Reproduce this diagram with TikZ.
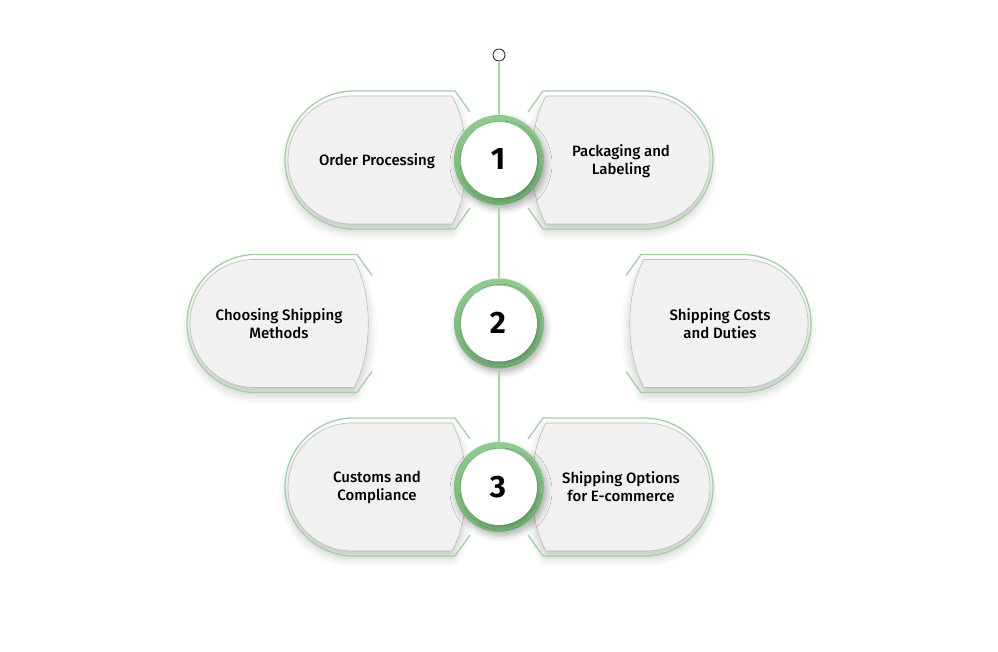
\documentclass[tikz,border=0pt]{standalone}
\usepackage{fontspec}
\setmainfont{Fira Sans}
\newfontfamily\medfont{Fira Sans Medium}
\usetikzlibrary{shadows.blur}
\definecolor{boxfill}{HTML}{F1F1F1}
\definecolor{boxedge}{HTML}{BDBDBD}
\definecolor{outgreen}{HTML}{9FD29F}
\definecolor{linegreen}{HTML}{A6D7A6}
\definecolor{ringgreen}{HTML}{90CB90}
\definecolor{ringdark}{HTML}{74B274}
\newcommand\boxpaths{%
    \fill[boxfill, draw=boxedge, line width=0.6pt,
      blur shadow={shadow xshift=0pt, shadow yshift=-7pt, shadow blur radius=9pt, shadow opacity=22}]
      (-147,64) -- (-47,64) .. controls (-28,30) and (-28,-30) .. (-47,-64)
      -- (-147,-64) arc[start angle=270, end angle=90, radius=64] -- cycle;
    \draw[outgreen, line width=1.3pt, line join=round]
      (-29,48) -- (-44,69) -- (-145,69) arc[start angle=90, end angle=270, radius=69]
      -- (-44,-69) -- (-29,-48);
}
\tikzset{
  label/.style={font=\medfont\fontsize{15}{18}\selectfont, align=center, text=black, inner sep=0pt},
  num/.style={font=\bfseries\fontsize{31}{31}\selectfont, text=black, inner sep=0pt},
  ring/.style={circle, minimum size=90pt, inner sep=0pt, top color=ringgreen, bottom color=ringdark,
    blur shadow={shadow xshift=2pt, shadow yshift=-4pt, shadow blur radius=6pt, shadow opacity=30}},
  face/.style={circle, minimum size=76pt, inner sep=0pt, fill=white,
    blur shadow={shadow xshift=2pt, shadow yshift=-2pt, shadow blur radius=3pt, shadow opacity=22}},
  link/.style={draw=linegreen, line width=1.8pt}
}
\begin{document}
\begin{tikzpicture}[x=1pt,y=1pt]
\useasboundingbox (0,0) rectangle (998,652);
% boxes
\begin{scope}[shift={(499,492)}] \boxpaths \end{scope}
\begin{scope}[shift={(499,492)}, xscale=-1] \boxpaths \end{scope}
\begin{scope}[shift={(401,328.5)}] \boxpaths \end{scope}
\begin{scope}[shift={(597,328.5)}, xscale=-1] \boxpaths \end{scope}
\begin{scope}[shift={(499,165)}] \boxpaths \end{scope}
\begin{scope}[shift={(499,165)}, xscale=-1] \boxpaths \end{scope}
% circles
\node[circle, minimum size=12pt, inner sep=0pt, draw=black!80, line width=0.9pt, fill=white] (top) at (499,597) {};
\node[ring] (c1) at (499,492) {};
\node[ring] (c2) at (499,328.5) {};
\node[ring] (c3) at (499,165) {};
\draw[link] (top) -- (c1);
\draw[link] (c1) -- (c2);
\draw[link] (c2) -- (c3);
\node[face] (f1) at (499,492) {};
\node[face] (f2) at (499,328.5) {};
\node[face] (f3) at (499,165) {};
\node[num] (n1) at (498,493) {1};
\node[num] (n2) at (498,329) {2};
\node[num] (n3) at (498,165) {3};
% labels
\node[label] (t1) at (377,491) {Order Processing};
\node[label] (t2) at (621,491) {Packaging and\\Labeling};
\node[label] (t3) at (279,328.5) {Choosing Shipping\\Methods};
\node[label] (t4) at (720,328.5) {Shipping Costs\\and Duties};
\node[label] (t5) at (377,165) {Customs and\\Compliance};
\node[label] (t6) at (621,165) {Shipping Options\\for E-commerce};
\end{tikzpicture}
\end{document}
